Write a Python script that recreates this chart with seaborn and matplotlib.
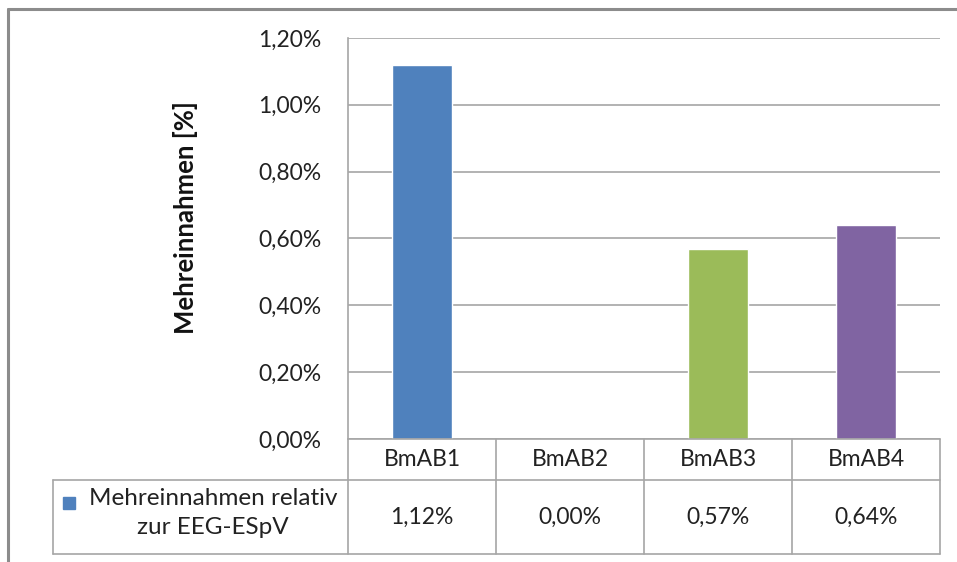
import matplotlib
matplotlib.use("Agg")
import matplotlib.pyplot as plt
import seaborn as sns
from matplotlib.patches import Rectangle
from matplotlib.ticker import FuncFormatter, MultipleLocator

# Data
categories = ["BmAB1", "BmAB2", "BmAB3", "BmAB4"]
values = [1.12, 0.00, 0.57, 0.64]
value_labels = ["1,12%", "0,00%", "0,57%", "0,64%"]
series_name = "Mehreinnahmen relativ\nzur EEG-ESpV"
y_label = "Mehreinnahmen [%]"
bar_colors = ["#4F81BD", "#C0504D", "#9BBB59", "#8064A2"]

sns.set_theme(style="white")
plt.rcParams["font.family"] = ["Lato", "DejaVu Sans"]

W, H = 957, 562
fig = plt.figure(figsize=(W / 100, H / 100), dpi=100)
fig.patch.set_facecolor("white")

# Plot area in pixel coordinates
px_left, px_right, px_top, px_bottom = 348, 940, 38, 439
ax = fig.add_axes([px_left / W, 1 - px_bottom / H,
                   (px_right - px_left) / W, (px_bottom - px_top) / H])

sns.barplot(x=categories, y=values, hue=categories, palette=bar_colors,
            width=0.4, legend=False, ax=ax, saturation=1)

ax.set_xlim(-0.5, 3.5)
ax.set_ylim(0, 1.2)
ax.yaxis.set_major_locator(MultipleLocator(0.2))
ax.yaxis.set_major_formatter(FuncFormatter(lambda v, _: f"{v:.2f}%".replace(".", ",")))
ax.tick_params(axis="y", length=0, pad=19, labelsize=16.5, labelcolor="#222222")
ax.set_xticks([])
ax.set_xlabel("")
ax.set_ylabel("")

grid_color = "#A6A6A6"
ax.grid(axis="y", color=grid_color, linewidth=1.2)
ax.set_axisbelow(True)
for s in ["top", "right", "bottom"]:
    ax.spines[s].set_visible(False)
ax.spines["left"].set_color(grid_color)
ax.spines["left"].set_linewidth(1.2)

# Axis title
fig.text(185 / W, 1 - 218 / H, y_label, rotation=90, ha="center", va="center",
         fontsize=18.5, fontweight="bold", color="#111111")

# Data table under the plot
ppx = (px_right - px_left) / 4.0  # pixels per category
def fy(py):
    return 1 - py / H

def fx(px):
    return px / W

row1_bottom, row2_bottom = 480, 554
legend_left = 53
lw = 1.2
lines = []
# horizontal lines
lines.append(([px_left, px_right], [px_bottom, px_bottom]))
lines.append(([legend_left, px_right], [row1_bottom, row1_bottom]))
lines.append(([legend_left, px_right], [row2_bottom, row2_bottom]))
# vertical lines
for i in range(5):
    x = px_left + i * ppx
    lines.append(([x, x], [px_bottom, row2_bottom]))
lines.append(([legend_left, legend_left], [row1_bottom, row2_bottom]))
for xs, ys in lines:
    fig.add_artist(plt.Line2D([fx(x) for x in xs], [fy(y) for y in ys],
                              color=grid_color, linewidth=lw))

for i, (cat, lab) in enumerate(zip(categories, value_labels)):
    cx = px_left + (i + 0.5) * ppx
    fig.text(fx(cx), fy(460), cat, ha="center", va="center", fontsize=16.5, color="#222222")
    fig.text(fx(cx), fy(517), lab, ha="center", va="center", fontsize=16.5, color="#222222")

# Legend key and series name
fig.add_artist(Rectangle((fx(63), fy(509)), 12 / W, 12 / H, color=bar_colors[0],
                         transform=fig.transFigure))
fig.text(fx(213), fy(513), series_name, ha="center", va="center", fontsize=17.5,
         color="#222222", linespacing=1.45)

# Outer chart frame
frame_color = "#8C8C8C"
fig.add_artist(plt.Line2D([fx(8), fx(8)], [fy(9), 0], color=frame_color, linewidth=2.2))
fig.add_artist(plt.Line2D([fx(8), 1], [fy(9), fy(9)], color=frame_color, linewidth=2.2))

fig.savefig("out.png", dpi=100, facecolor="white")
